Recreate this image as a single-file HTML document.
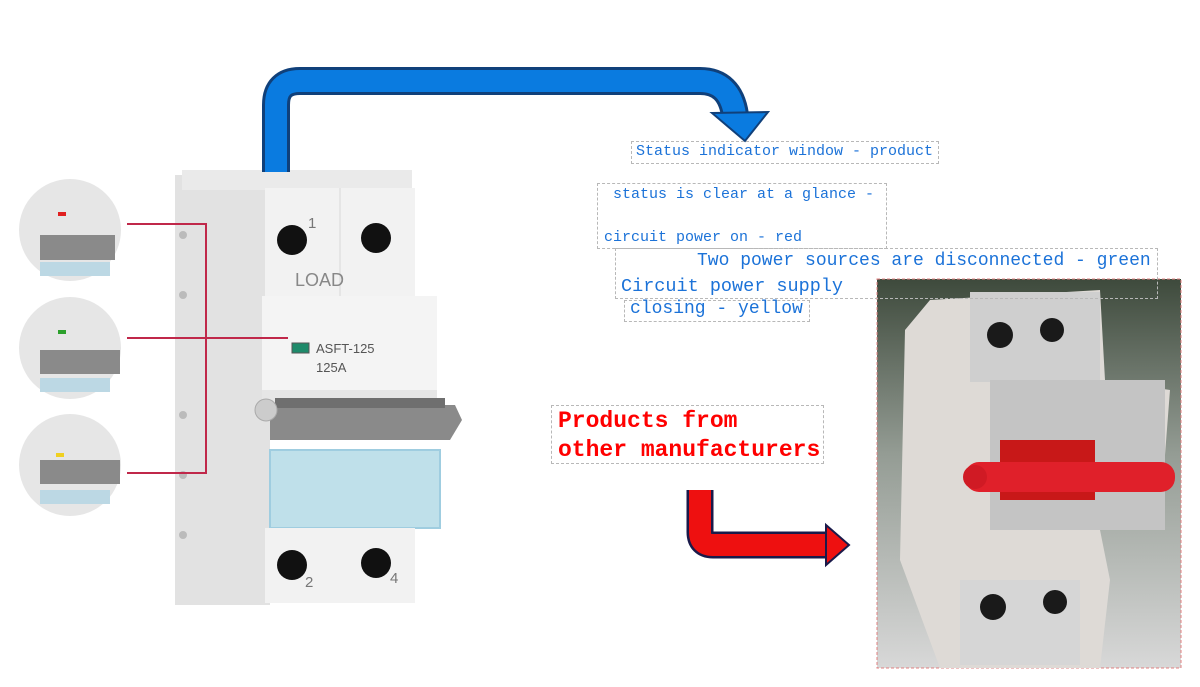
<!DOCTYPE html>
<html><head><meta charset="utf-8"><style>
body{margin:0;width:1200px;height:687px;background:#fff;position:relative;overflow:hidden;font-family:"Liberation Sans",sans-serif}
.a{position:absolute}
.t{position:absolute;font-family:"Liberation Mono","DejaVu Sans Mono",monospace;color:#1b72d8;white-space:nowrap}
.bx{position:absolute;border:1px dashed #b8b8b8}
</style></head><body>
<svg class="a" style="left:0;top:0" width="1200" height="687">
<rect x="175" y="175" width="95" height="430" fill="#e2e2e2"/>
<rect x="182" y="170" width="230" height="20" fill="#eaeaea"/>
<rect x="265" y="188" width="150" height="112" fill="#f2f2f2"/>
<line x1="340" y1="188" x2="340" y2="300" stroke="#d8d8d8"/>
<rect x="262" y="296" width="175" height="100" fill="#f4f4f4"/>
<rect x="262" y="390" width="175" height="30" fill="#e6e6e6"/>
<polygon points="270,405 455,405 462,420 450,440 270,440" fill="#8a8a8a"/>
<rect x="275" y="398" width="170" height="10" fill="#6f6f6f"/>
<rect x="270" y="450" width="170" height="78" fill="#bfe0ea" stroke="#9fcde0" stroke-width="2"/>
<rect x="265" y="528" width="150" height="75" fill="#f2f2f2"/>
<circle cx="292" cy="240" r="15" fill="#111"/><circle cx="376" cy="238" r="15" fill="#111"/>
<circle cx="292" cy="565" r="15" fill="#111"/><circle cx="376" cy="563" r="15" fill="#111"/>
<rect x="292" y="343" width="17" height="10" fill="#1e8a6a" stroke="#555"/>
<circle cx="266" cy="410" r="11" fill="#ccc" stroke="#aaa"/>
<circle cx="183" cy="235" r="4" fill="#bbb"/><circle cx="183" cy="295" r="4" fill="#bbb"/><circle cx="183" cy="415" r="4" fill="#bbb"/><circle cx="183" cy="475" r="4" fill="#bbb"/><circle cx="183" cy="535" r="4" fill="#bbb"/>
<g>
<circle cx="70" cy="230" r="51" fill="#e6e6e6"/><rect x="40" y="235" width="75" height="25" fill="#8a8a8a"/><rect x="40" y="262" width="70" height="14" fill="#bcd8e4"/><rect x="58" y="212" width="8" height="4" fill="#e02020"/>
<circle cx="70" cy="348" r="51" fill="#e6e6e6"/><rect x="40" y="350" width="80" height="24" fill="#8a8a8a"/><rect x="40" y="378" width="70" height="14" fill="#bcd8e4"/><rect x="58" y="330" width="8" height="4" fill="#2ca02c"/>
<circle cx="70" cy="465" r="51" fill="#e6e6e6"/><rect x="40" y="460" width="80" height="24" fill="#8a8a8a"/><rect x="40" y="490" width="70" height="14" fill="#bcd8e4"/><rect x="56" y="453" width="8" height="4" fill="#f0d020"/>
</g>
<path d="M127 224 H206 V473 H127 M127 338 H288" fill="none" stroke="#c0284a" stroke-width="2"/>
<path d="M276 172 V105 Q276 81 300 81 H700 Q730 81 735 115" fill="none" stroke="#10407a" stroke-width="28"/>
<path d="M276 172 V105 Q276 81 300 81 H700 Q730 81 735 115" fill="none" stroke="#0a7be0" stroke-width="22"/>
<polygon points="712,113 768,112 745,141" fill="#0a7be0" stroke="#10407a" stroke-width="2"/>
<path d="M700 490 V532 Q700 545 713 545 H828" fill="none" stroke="#1a1a4a" stroke-width="27"/>
<path d="M700 490 V532 Q700 545 713 545 H828" fill="none" stroke="#ee1010" stroke-width="22"/>
<polygon points="826,525 849,545 826,565" fill="#ee1010" stroke="#1a1a4a" stroke-width="2"/>
<defs><linearGradient id="g" x1="0" y1="0" x2="0" y2="1"><stop offset="0" stop-color="#3e4a3c"/><stop offset="0.45" stop-color="#949c94"/><stop offset="1" stop-color="#d8d8d8"/></linearGradient></defs>
<rect x="877" y="279" width="304" height="389" fill="url(#g)" stroke="#e08080" stroke-dasharray="3,2"/>
<polygon points="905,330 930,300 1100,290 1105,380 1170,390 1160,520 1100,530 1110,580 1100,668 940,668 900,560" fill="#dedad6"/>
<rect x="970" y="292" width="130" height="90" fill="#cfcfcf"/>
<circle cx="1000" cy="335" r="13" fill="#1a1a1a"/><circle cx="1052" cy="330" r="12" fill="#1a1a1a"/>
<rect x="990" y="380" width="175" height="150" fill="#c4c4c4"/>
<rect x="1000" y="440" width="95" height="60" fill="#c81818"/>
<rect x="965" y="462" width="210" height="30" rx="14" fill="#e0202a"/>
<circle cx="975" cy="477" r="12" fill="#d01a24"/>
<rect x="960" y="580" width="120" height="85" fill="#d6d6d6"/>
<circle cx="993" cy="607" r="13" fill="#1a1a1a"/><circle cx="1055" cy="602" r="12" fill="#1a1a1a"/>
</svg>
<div class="a" style="left:308px;top:215px;font-size:15px;color:#777">1</div>
<div class="a" style="left:295px;top:270px;font-size:18px;color:#888">LOAD</div>
<div class="a" style="left:316px;top:341px;font-size:13px;color:#555">ASFT-125</div>
<div class="a" style="left:316px;top:360px;font-size:13px;color:#555">125A</div>
<div class="a" style="left:305px;top:574px;font-size:15px;color:#777">2</div>
<div class="a" style="left:390px;top:570px;font-size:15px;color:#777">4</div>

<div class="bx" style="left:631px;top:141px;width:306px;height:21px"></div>
<div class="t" style="left:636px;top:143px;font-size:15px">Status indicator window - product</div>
<div class="bx" style="left:597px;top:183px;width:288px;height:64px"></div>
<div class="t" style="left:613px;top:186px;font-size:15px">status is clear at a glance -</div>
<div class="t" style="left:604px;top:229px;font-size:15px">circuit power on - red</div>
<div class="bx" style="left:615px;top:248px;width:541px;height:49px"></div>
<div class="t" style="left:697px;top:251px;font-size:18px">Two power sources are disconnected - green</div>
<div class="t" style="left:621px;top:276px;font-size:18.5px">Circuit power supply</div>
<div class="bx" style="left:624px;top:300px;width:184px;height:20px"></div>
<div class="t" style="left:630px;top:299px;font-size:18px">closing - yellow</div>
<div class="bx" style="left:551px;top:405px;width:271px;height:57px"></div>
<div class="t" style="left:558px;top:407px;font-size:23px;color:#f00;font-weight:bold;line-height:29px">Products from<br>other manufacturers</div>
</body></html>
